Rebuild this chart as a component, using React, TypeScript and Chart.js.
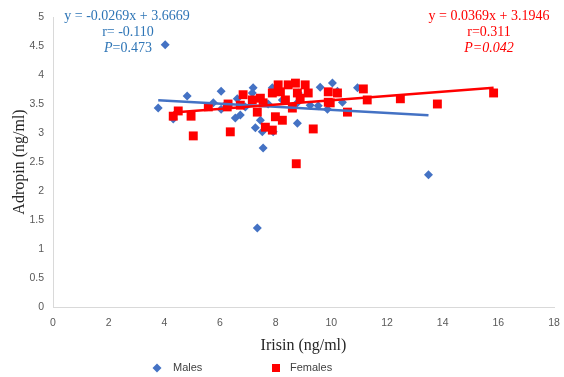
import React, { useEffect, useRef } from 'react';
import { Chart, registerables } from 'chart.js';

Chart.register(...registerables);

const maleX = [3.78, 4.03, 4.82, 4.32, 6.04, 5.76, 6.04, 6.62, 7.19, 7.16, 7.88, 6.55, 6.73, 7.45, 7.52, 7.27, 7.91, 8.78, 7.55, 6.91, 7.34, 13.49, 9.6, 10.04, 10.22, 10.94, 10.4, 8.81, 8.78, 9.24, 9.53, 9.86, 7.73, 8.24];
const maleY = [3.43, 4.52, 3.64, 3.24, 3.72, 3.52, 3.41, 3.59, 3.78, 3.69, 3.78, 3.26, 3.31, 3.22, 3.02, 3.09, 3.02, 3.17, 2.74, 3.45, 1.36, 2.28, 3.79, 3.86, 3.72, 3.78, 3.53, 3.69, 3.52, 3.48, 3.47, 3.41, 3.5, 3.57];

const femaleX = [4.32, 4.5, 4.96, 5.04, 5.58, 6.29, 6.37, 6.83, 7.16, 7.45, 7.88, 8.09, 8.45, 8.71, 8.17, 8.35, 7.34, 7.99, 8.24, 7.55, 7.63, 7.88, 6.26, 6.73, 8.78, 9.06, 9.17, 8.88, 9.89, 10.22, 9.89, 9.96, 11.15, 11.29, 10.58, 9.35, 8.6, 8.74, 12.48, 13.81, 15.83];
const femaleY = [3.29, 3.38, 3.29, 2.95, 3.45, 3.5, 3.02, 3.66, 3.57, 3.6, 3.69, 3.83, 3.83, 3.86, 3.71, 3.57, 3.36, 3.28, 3.22, 3.52, 3.1, 3.05, 3.45, 3.48, 3.69, 3.83, 3.69, 3.6, 3.71, 3.69, 3.53, 3.52, 3.76, 3.57, 3.36, 3.07, 3.43, 2.47, 3.59, 3.5, 3.69];

const maleTrendX = [3.78, 13.49];
const maleTrendY = [3.565, 3.304];
const femaleTrendX = [4.32, 15.83];
const femaleTrendY = [3.354, 3.779];

const seriesNames = ['Males', 'Females'];
const xTitle = 'Irisin (ng/ml)';
const yTitle = 'Adropin (ng/ml)';
const maleStats = ['y = -0.0269x + 3.6669', 'r= -0.110', '0.473'];
const femaleStats = ['y = 0.0369x + 3.1946', 'r=0.311', '0.042'];

const BLUE = '#4472C4';
const RED = '#FF0000';
const BLUE_TEXT = '#2E75B6';
const TICK_FONT = '"Liberation Sans", Arial, sans-serif';
const SERIF = '"Liberation Serif", "Times New Roman", serif';

const pts = (xs: number[], ys: number[]) => xs.map((x, i) => ({ x, y: ys[i] }));

const annotate = {
  id: 'annotate',
  afterDraw(chart: any) {
    const ctx = chart.ctx as CanvasRenderingContext2D;
    ctx.save();
    ctx.textBaseline = 'middle';
    const drawCentered = (text: string, cx: number, cy: number, color: string, italic = false) => {
      ctx.font = `${italic ? 'italic ' : ''}14px ${SERIF}`;
      ctx.fillStyle = color;
      ctx.textAlign = 'center';
      ctx.fillText(text, cx, cy);
    };
    const drawP = (val: string, cx: number, cy: number, color: string, allItalic: boolean) => {
      ctx.fillStyle = color;
      ctx.textAlign = 'left';
      ctx.font = `italic 14px ${SERIF}`;
      const wP = ctx.measureText('P').width;
      ctx.font = `${allItalic ? 'italic ' : ''}14px ${SERIF}`;
      const rest = '=' + val;
      const wR = ctx.measureText(rest).width;
      const x0 = cx - (wP + wR) / 2;
      ctx.font = `italic 14px ${SERIF}`;
      ctx.fillText('P', x0, cy);
      ctx.font = `${allItalic ? 'italic ' : ''}14px ${SERIF}`;
      ctx.fillText(rest, x0 + wP, cy);
    };
    drawCentered(maleStats[0], 127, 16, BLUE_TEXT);
    drawCentered(maleStats[1], 128, 32, BLUE_TEXT);
    drawP(maleStats[2], 128, 48, BLUE_TEXT, false);
    drawCentered(femaleStats[0], 489, 16, RED);
    drawCentered(femaleStats[1], 489, 32, RED);
    drawP(femaleStats[2], 489, 48, RED, true);

    // legend
    const ly = 368;
    ctx.fillStyle = BLUE;
    ctx.beginPath();
    ctx.moveTo(157, ly - 4.5);
    ctx.lineTo(161.5, ly);
    ctx.lineTo(157, ly + 4.5);
    ctx.lineTo(152.5, ly);
    ctx.closePath();
    ctx.fill();
    ctx.fillStyle = RED;
    ctx.fillRect(272, ly - 4, 8, 8);
    ctx.font = `11px ${TICK_FONT}`;
    ctx.fillStyle = '#404040';
    ctx.textAlign = 'left';
    ctx.fillText(seriesNames[0], 173, ly);
    ctx.fillText(seriesNames[1], 290, ly);
    ctx.restore();
  },
};

export default function App() {
  const ref = useRef<HTMLCanvasElement>(null);
  useEffect(() => {
    if (!ref.current) return;
    const chart = new Chart(ref.current, {
      type: 'scatter',
      data: {
        datasets: [
          {
            label: 'femaleTrend',
            data: pts(femaleTrendX, femaleTrendY),
            showLine: true,
            borderColor: RED,
            borderWidth: 2.5,
            pointRadius: 0,
            order: 0,
          },
          {
            label: 'maleTrend',
            data: pts(maleTrendX, maleTrendY),
            showLine: true,
            borderColor: BLUE,
            borderWidth: 2.5,
            pointRadius: 0,
            order: 1,
          },
          {
            label: seriesNames[1],
            data: pts(femaleX, femaleY),
            pointStyle: 'rect',
            pointRadius: 6.3,
            backgroundColor: RED,
            borderWidth: 0,
            order: 2,
          },
          {
            label: seriesNames[0],
            data: pts(maleX, maleY),
            pointStyle: 'rectRot',
            pointRadius: 4.5,
            backgroundColor: BLUE,
            borderWidth: 0,
            order: 3,
          },
        ],
      },
      options: {
        responsive: false,
        animation: false,
        layout: { padding: { left: 0, right: 10, top: 17, bottom: 20 } },
        plugins: { legend: { display: false }, tooltip: { enabled: false } },
        scales: {
          x: {
            type: 'linear',
            min: 0,
            max: 18,
            grid: { display: false, drawTicks: false },
            border: { display: true, color: '#D9D9D9', width: 1 },
            ticks: {
              stepSize: 2,
              padding: 10,
              color: '#595959',
              font: { family: TICK_FONT, size: 10.5 },
              callback: (v: any) => String(Number(v)),
            },
            title: {
              display: true,
              text: xTitle,
              color: '#262626',
              font: { family: SERIF, size: 16 },
              padding: { top: 0, bottom: 2 },
            },
            afterFit: (s: any) => {
              s.height = 50;
              s.paddingRight = 0;
              s.paddingLeft = 0;
            },
          },
          y: {
            type: 'linear',
            min: 0,
            max: 5,
            grid: { display: false, drawTicks: false },
            border: { display: true, color: '#D9D9D9', width: 1 },
            ticks: {
              stepSize: 0.5,
              padding: 9,
              color: '#595959',
              font: { family: TICK_FONT, size: 10.5 },
              callback: (v: any) => String(Number(v)),
            },
            title: {
              display: true,
              text: yTitle,
              color: '#262626',
              font: { family: SERIF, size: 16 },
              padding: { top: 10, bottom: 0 },
            },
            afterFit: (s: any) => {
              s.width = 53;
              s.paddingTop = 0;
              s.paddingBottom = 0;
            },
          },
        },
      },
      plugins: [annotate],
    });
    return () => chart.destroy();
  }, []);
  return (
    <div style={{ position: 'absolute', left: 0, top: 0, width: 564, height: 377, background: '#fff' }}>
      <canvas ref={ref} width={564} height={377} />
    </div>
  );
}
